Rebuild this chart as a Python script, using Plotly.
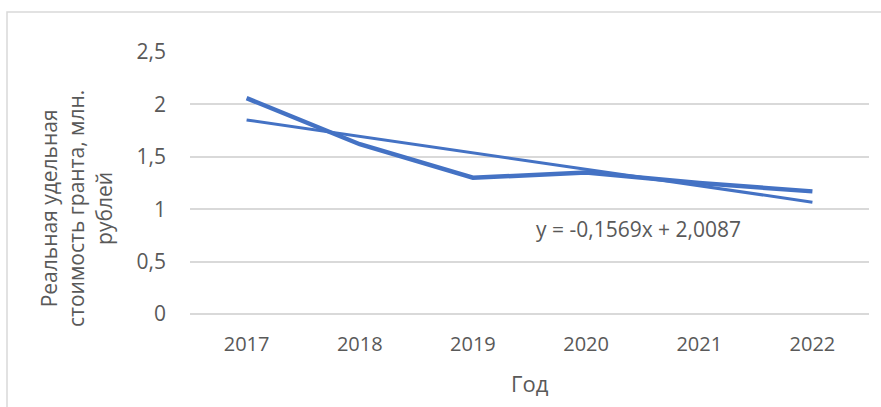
import numpy as np
import plotly.graph_objects as go

# Data: real unit cost of a grant by year (mln rubles)
years = ["2017", "2018", "2019", "2020", "2021", "2022"]
cost = [2.06, 1.62, 1.30, 1.35, 1.25, 1.17]

# Linear trend as stated in the equation label
trend_slope = -0.1569
trend_intercept = 2.0087
trend_label = "y = -0,1569x + 2,0087"

y_title = "Реальная удельная<br>стоимость гранта, млн.<br>рублей"
x_title = "Год"

W, H = 881, 407
L, R, T, B = 190, 12, 52, 93
pw, ph = W - L - R, H - T - B


def px(xp):
    return (xp - L) / pw


def py(yp):
    return (H - B - yp) / ph


blue = "#4472C4"
grey_text = "#595959"
font_family = "Open Sans, Liberation Sans, sans-serif"

idx = np.arange(1, len(years) + 1)
trend = trend_slope * idx + trend_intercept

fig = go.Figure()
fig.add_trace(go.Scatter(
    x=years, y=cost, mode="lines",
    line=dict(color=blue, width=4.5),
    hoverinfo="skip", showlegend=False,
))
fig.add_trace(go.Scatter(
    x=years, y=trend, mode="lines",
    line=dict(color=blue, width=3),
    hoverinfo="skip", showlegend=False,
))

fig.update_layout(
    width=W, height=H,
    margin=dict(l=L, r=R, t=T, b=B, pad=0, autoexpand=False),
    paper_bgcolor="white", plot_bgcolor="white",
    separators=", ",
    font=dict(family=font_family, size=20, color=grey_text),
    showlegend=False,
    xaxis=dict(
        type="category", range=[-0.5, len(years) - 0.5],
        showgrid=False, zeroline=False, automargin=False,
        showline=False, ticks="", ticklabelstandoff=16,
        tickfont=dict(size=20, color=grey_text),
    ),
    yaxis=dict(
        range=[0, 2.5], dtick=0.5, tick0=0, automargin=False,
        showgrid=True, gridcolor="#d9d9d9", gridwidth=1.5,
        zeroline=True, zerolinecolor="#d9d9d9", zerolinewidth=1.5,
        showline=False, ticks="", ticklabelstandoff=23,
        tickfont=dict(size=21, color=grey_text),
    ),
    shapes=[dict(
        type="rect", xref="paper", yref="paper",
        x0=px(7), x1=px(W + 10), y0=py(H + 10), y1=py(12),
        line=dict(color="#d9d9d9", width=1.5), fillcolor="rgba(0,0,0,0)",
        layer="below",
    )],
    annotations=[
        dict(text=trend_label, xref="paper", yref="paper",
             x=px(534), y=py(229), xanchor="left", yanchor="middle",
             showarrow=False, font=dict(size=21, color=grey_text)),
        dict(text=x_title, xref="paper", yref="paper",
             x=px(530), y=py(383), xanchor="center", yanchor="middle",
             showarrow=False, font=dict(size=22, color=grey_text)),
        dict(text=y_title, xref="paper", yref="paper",
             x=px(76), y=py(209), xanchor="center", yanchor="middle",
             textangle=-90, showarrow=False,
             font=dict(size=21, color=grey_text)),
    ],
)

fig.write_html("out.html")
